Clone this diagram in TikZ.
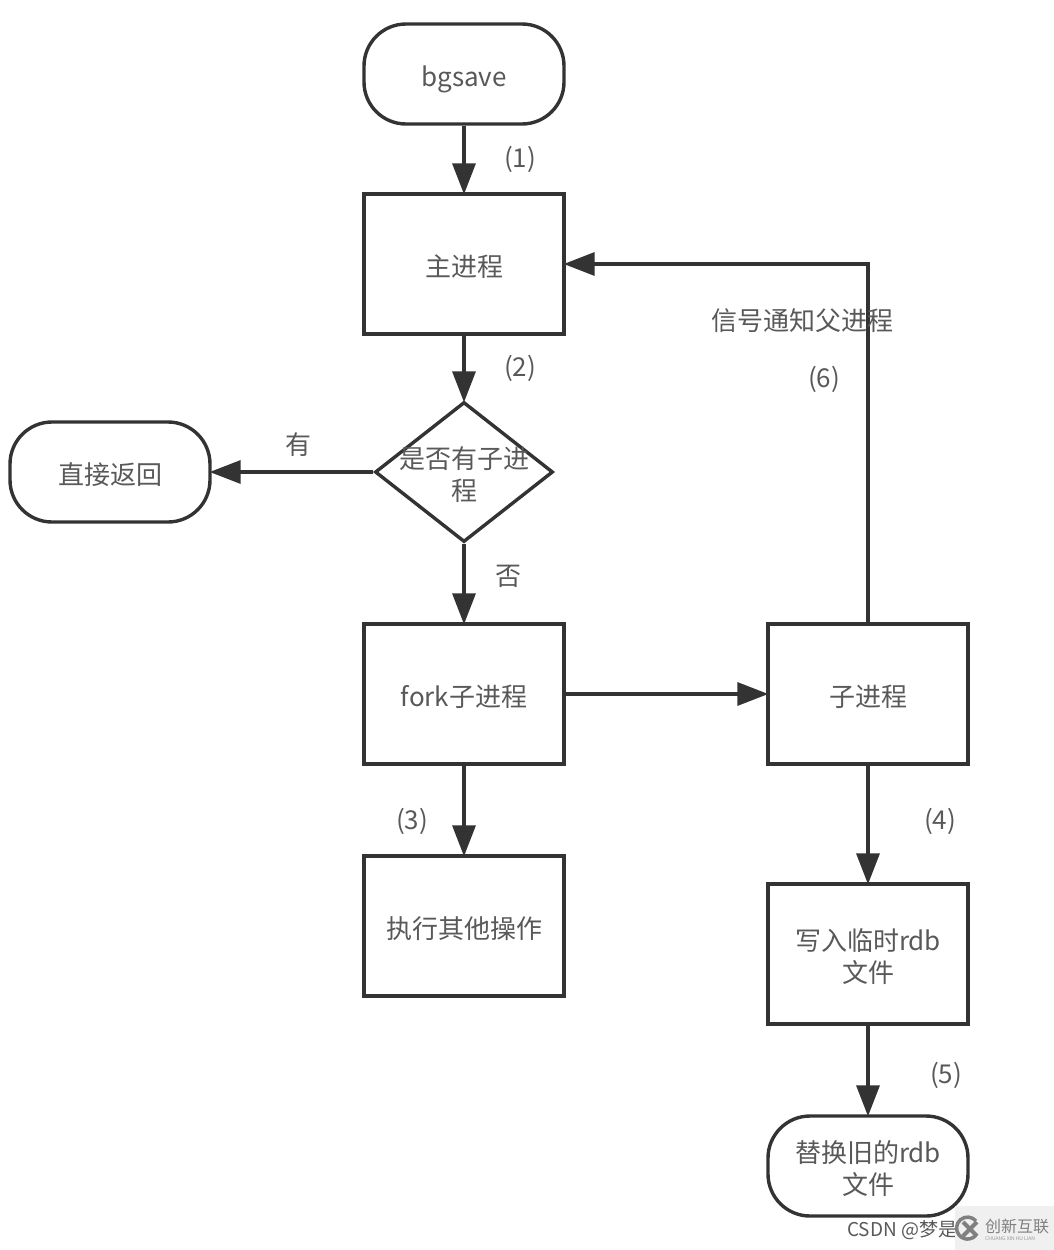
\documentclass[tikz,border=0pt]{standalone}
\usepackage{fontspec}
\setmainfont{Open Sans}
\newfontfamily\cjk{Noto Sans CJK SC}
\usetikzlibrary{arrows.meta,shapes.geometric}
\definecolor{linegray}{HTML}{333333}
\definecolor{textgray}{HTML}{595959}
\tikzset{
	flowbox/.style={draw=linegray,line width=3.4pt,rectangle,minimum width=200pt,minimum height=140pt,align=center,inner sep=0pt,text=textgray,execute at begin node={\rule[-6pt]{0pt}{36pt}}},
	endbox/.style={flowbox,minimum height=100pt,rounded corners=42pt},
	twolines/.style={label={[note,align=center,yshift=-3pt]center:#1}},
	askbox/.style={draw=linegray,line width=3.4pt,diamond,minimum width=178pt,minimum height=140pt,inner sep=0pt},
	flowline/.style={draw=linegray,line width=3.4pt,-{Triangle[length=31pt,width=23pt]},shorten >=-2pt},
	note/.style={text=textgray,inner sep=0pt},
	every node/.append style={font=\fontsize{26}{32}\selectfont\cjk}
}
\begin{document}
\begin{tikzpicture}[x=1pt,y=-1pt]
	\useasboundingbox (0,0) rectangle (1054,1250);
	\node[endbox] (start) at (464,74) {\raisebox{-2pt}{bgsave}};
	\node[flowbox] (mainproc) at (464,264) {主进程};
	\node[askbox,twolines={是否有子进\\程}] (haschild) at (464,472) {};
	\node[endbox] (back) at (110,472) {直接返回};
	\node[flowbox] (fork) at (464,694) {fork子进程};
	\node[flowbox] (child) at (868,694) {子进程};
	\node[flowbox] (other) at (464,926) {执行其他操作};
	\node[flowbox,twolines={写入临时rdb\\文件}] (tmpfile) at (868,954) {};
	\node[endbox,twolines={替换旧的rdb\\文件}] (swap) at (868,1166) {};
	% connectors
	\draw[flowline] (start)--(mainproc);
	\draw[flowline] (mainproc)--(haschild);
	\draw[flowline] (haschild)--(back);
	\draw[flowline] (haschild)--(fork);
	\draw[flowline] (fork)--(child);
	\draw[flowline] (fork)--(other);
	\draw[flowline] (child)--(tmpfile);
	\draw[flowline] (tmpfile)--(swap);
	\draw[flowline] (child.north)|-(mainproc.east);
	% labels
	\node[note] (n1) at (520,159) {(1)};
	\node[note] (n2) at (520,368) {(2)};
	\node[note] (n3) at (412,821) {(3)};
	\node[note] (n4) at (940,821) {(4)};
	\node[note] (n5) at (946,1075) {(5)};
	\node[note] (n6) at (824,379) {(6)};
	\node[note] (yes) at (298,445) {有};
	\node[note] (no) at (508,576) {否};
	\node[note] (signal) at (802,321) {信号通知父进程};
	% watermark
	\node[note,font=\fontsize{19}{20}\selectfont\cjk,anchor=west] (csdn) at (847,1230) {CSDN @梦是};
	\fill[gray!12] (955,1206) rectangle (1054,1250);
	\draw[gray,line width=3.5pt] (976,1221) arc (40:320:11pt);
	\draw[gray,line width=4pt] (963,1222)--(977,1236) (963,1236)--(977,1222);
	\node[note,text=gray,font=\fontsize{16}{18}\selectfont\cjk,anchor=west] (logo) at (985,1226) {创新互联};
	\node[note,text=gray!80,font=\fontsize{5}{6}\selectfont\cjk,anchor=west] (logosub) at (985,1239) {CHUANG XIN HU LIAN};
\end{tikzpicture}
\end{document}
